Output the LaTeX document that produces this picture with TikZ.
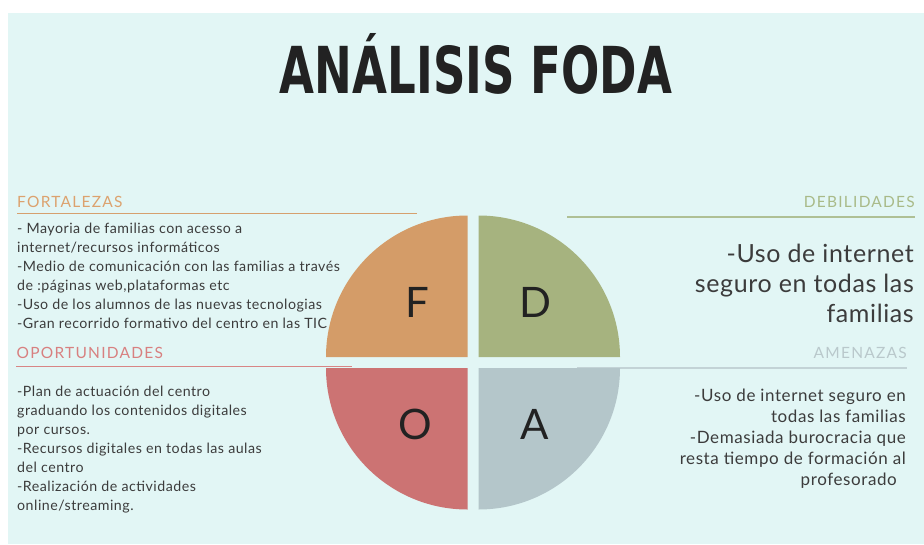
\documentclass[tikz,border=0pt]{standalone}
\usepackage{fontspec}
\setmainfont{Lato}
\newfontfamily\bodyfont{Lato}[LetterSpace=3.5]
\newfontfamily\bigfont{Lato}[LetterSpace=2.5]
\newfontfamily\headfont{Lato}[LetterSpace=8]
\newfontfamily\titlefont{DejaVu Sans}
\usepackage{graphicx}
\definecolor{bgcol}{HTML}{E2F6F5}
\definecolor{fcol}{HTML}{D49C68}
\definecolor{dcol}{HTML}{A6B37F}
\definecolor{ocol}{HTML}{CC7373}
\definecolor{acol}{HTML}{B4C6CA}
\definecolor{fhead}{HTML}{DCA26E}
\definecolor{dhead}{HTML}{A9BA88}
\definecolor{ohead}{HTML}{D88080}
\definecolor{ahead}{HTML}{B9C8CB}
\definecolor{fline}{HTML}{D6A06E}
\definecolor{dline}{HTML}{AFC095}
\definecolor{oline}{HTML}{D88585}
\definecolor{aline}{HTML}{C3D3D6}
\definecolor{txt}{HTML}{3C3C3C}
\definecolor{ink}{HTML}{222222}
\tikzset{
  heading/.style={inner sep=0pt, font=\headfont\fontsize{15.5}{18}\selectfont},
  smallbody/.style={inner sep=0pt, text=txt, font=\bodyfont\fontsize{14.2}{19}\selectfont},
  bigbody/.style={inner sep=0pt, text=txt, font=\bigfont\fontsize{25}{30}\selectfont},
  midbody/.style={inner sep=0pt, text=txt, font=\bodyfont\fontsize{17}{21}\selectfont},
  letter/.style={inner sep=0pt, text=ink, font=\fontsize{42}{48}\selectfont},
  rule/.style={line width=1.5pt}
}
\begin{document}
\begin{tikzpicture}[x=1pt,y=-1pt]
\useasboundingbox (0,0) rectangle (924,544);
\fill[bgcol] (8,13) rectangle (924,544);

% title
\node[inner sep=0pt, anchor=north, text=ink] (title) at (476,33)
  {\resizebox{392pt}{60pt}{\titlefont\bfseries ANÁLISIS FODA}};

% rules
\coordinate (f1) at (17,213.5);  \coordinate (f2) at (417,213.5);
\coordinate (d1) at (567,217);   \coordinate (d2) at (915,217);
\coordinate (o1) at (16,366.7);  \coordinate (o2) at (352,366.7);
\coordinate (a1) at (577,368);   \coordinate (a2) at (907,368);
\draw[rule, fline] (f1) -- (f2);
\draw[rule, dline] (d1) -- (d2);
\draw[rule, oline] (o1) -- (o2);
\draw[rule, aline] (a1) -- (a2);

% quadrants
\fill[fcol] (467.5,357) -- ++(180:141.5) arc[start angle=180, end angle=270, radius=141.5] -- cycle;
\fill[dcol] (478.5,357) -- ++(270:141.5) arc[start angle=270, end angle=360, radius=141.5] -- cycle;
\fill[ocol] (467.5,368) -- ++(90:141.5) arc[start angle=90, end angle=180, radius=141.5] -- cycle;
\fill[acol] (478.5,368) -- ++(0:141.5) arc[start angle=0, end angle=90, radius=141.5] -- cycle;

\node[letter] (F) at (417.5,302) {F};
\node[letter] (D) at (535,302) {D};
\node[letter] (O) at (415,424) {O};
\node[letter] (A) at (535,424) {A};

% headings
\node[heading, text=fhead, anchor=base west] (fh) at (17,207) {FORTALEZAS};
\node[heading, text=dhead, anchor=base east] (dh) at (915,207) {DEBILIDADES};
\node[heading, text=ohead, anchor=base west] (oh) at (16.5,358.3) {OPORTUNIDADES};
\node[heading, text=ahead, anchor=base east] (ah) at (907,358.3) {AMENAZAS};

% bodies
\node[smallbody, align=left, anchor=north west] (ft) at (17,219.7)
  {\strut- Mayoria de familias con acesso a\\internet/recursos informáticos\\-Medio de comunicación con las familias a través\\de :páginas web,plataformas etc\\-Uso de los alumnos de las nuevas tecnologias\\-Gran recorrido formativo del centro en las TIC};
\node[smallbody, align=left, anchor=north west] (ot) at (17,382.8)
  {\strut-Plan de actuación del centro\\graduando los contenidos digitales\\por cursos.\\-Recursos digitales en todas las aulas\\del centro\\-Realización de actividades\\online/streaming.};
\node[bigbody, align=right, anchor=north east] (dt) at (914,241)
  {\strut-Uso de internet\\seguro en todas las\\familias};
\node[midbody, align=right, anchor=north east] (at) at (906,387)
  {\strut-Uso de internet seguro en\\todas las familias\\-Demasiada burocracia que\\resta tiempo de formación al\\profesorado\hspace*{9pt}};
\end{tikzpicture}
\end{document}
